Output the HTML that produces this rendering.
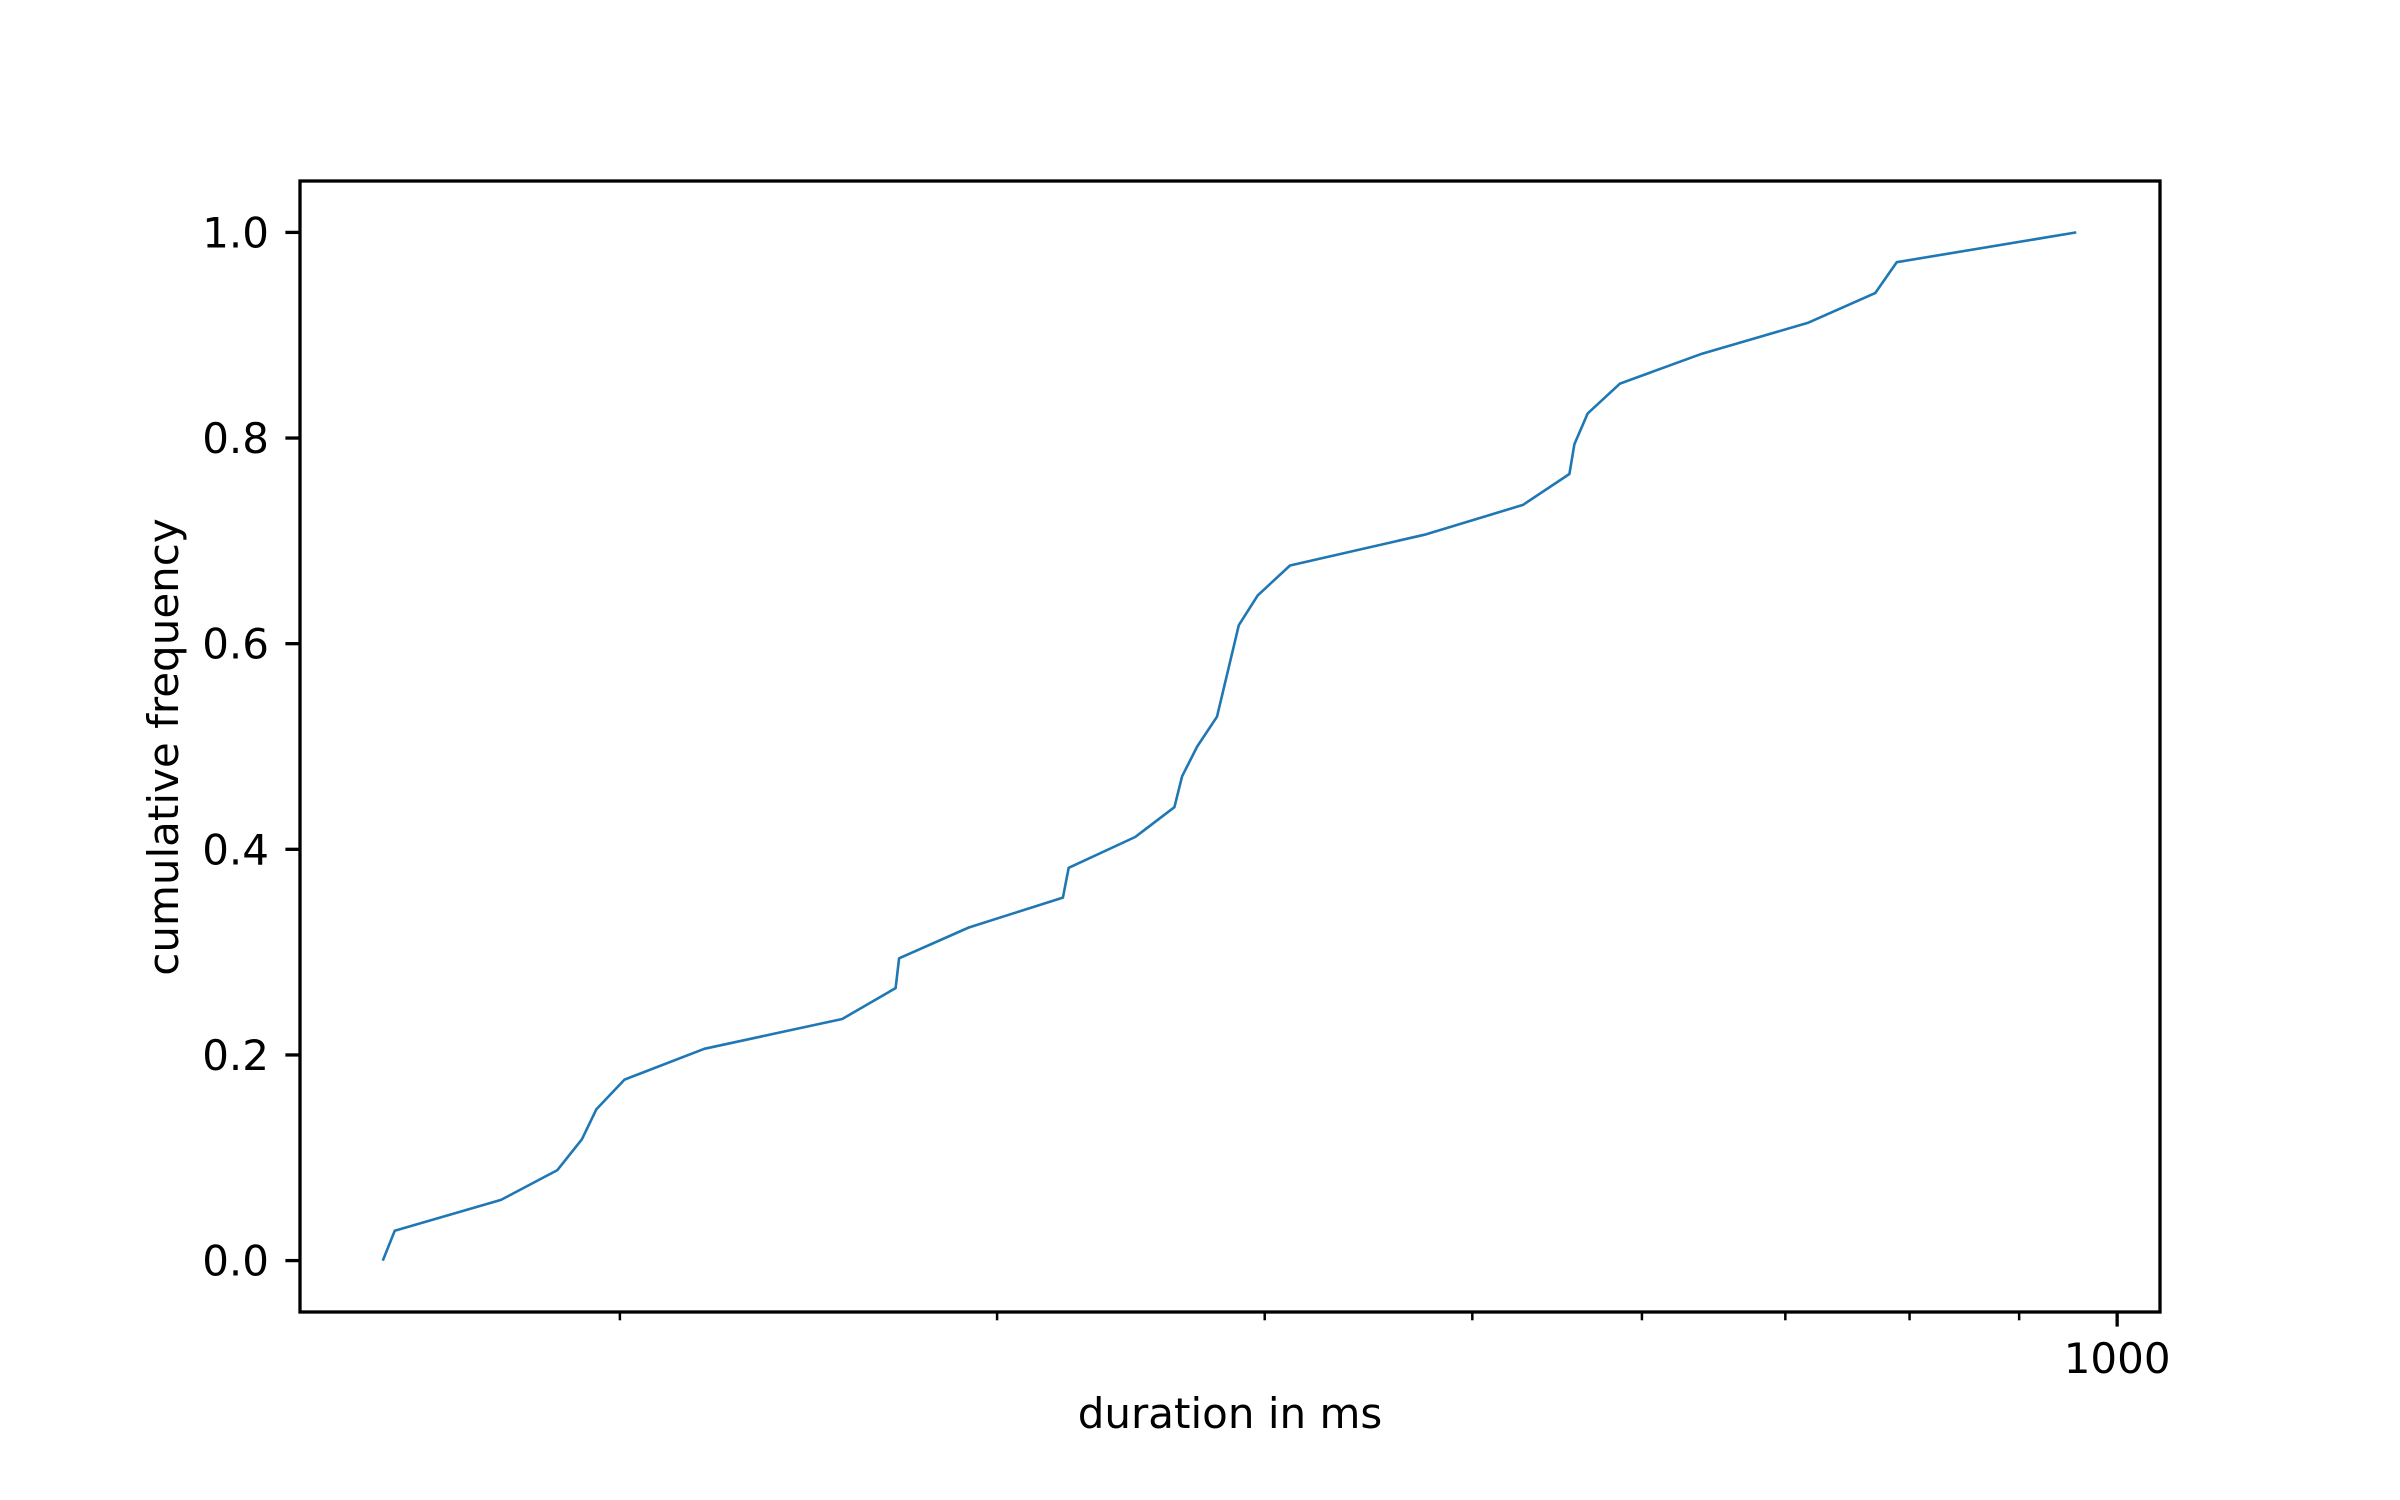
<!DOCTYPE html>
<html><head><meta charset="utf-8"><style>
html,body{margin:0;padding:0;background:#fff;}
svg{display:block;font-family:"DejaVu Sans","Liberation Sans",sans-serif;}
</style></head><body>
<svg id="chart" width="2400" height="1500" viewBox="0 0 2400 1500" xmlns="http://www.w3.org/2000/svg">
<rect x="0" y="0" width="2400" height="1500" fill="#fff"/>
<g id="plot"></g>
<rect x="300" y="181" width="1860" height="1131" fill="none" stroke="#000" stroke-width="3.3"/>
<text x="1230" y="1428" font-size="42" text-anchor="middle">duration in ms</text>
<text x="178" y="747" font-size="42" text-anchor="middle" transform="rotate(-90 178 747)">cumulative frequency</text>
</svg>
<script>
const durations = [155,157,176,187,192,195,201,219,254,269,270,291,322,324,348,363,366,372,380,389,397,411,475,528,555,558,566,586,640,717,771,789,957];
const cumFreq = [0,0.029,0.059,0.088,0.118,0.147,0.176,0.206,0.235,0.265,0.294,0.324,0.353,0.382,0.412,0.441,0.471,0.5,0.529,0.618,0.647,0.676,0.706,0.735,0.765,0.794,0.824,0.853,0.882,0.912,0.941,0.971,1.0];
const yTicks = [0,0.2,0.4,0.6,0.8,1.0];
const yTickLabels = ["0.0","0.2","0.4","0.6","0.8","1.0"];
const xMajorTicks = [1000];
const xMajorLabels = ["1000"];
const xMinorTicks = [200,300,400,500,600,700,800,900];

const NS="http://www.w3.org/2000/svg";
const L=300,R=2160,T=181,B=1312;
const xmin=2.1517,xmax=3.020;
function xs(v){return L+(Math.log10(v)-xmin)/(xmax-xmin)*(R-L);}
function ys(v){return B-(v+0.05)/1.1*(B-T);}
const g=document.getElementById('plot');
function mk(tag,attrs){const e=document.createElementNS(NS,tag);for(const k in attrs)e.setAttribute(k,attrs[k]);g.appendChild(e);return e;}

yTicks.forEach((v,i)=>{
  const t=mk('line',{x1:L-14.6,x2:L,y1:ys(v),y2:ys(v),stroke:'#000','stroke-width':3.3});
  
  
  const tx=mk('text',{x:L-31,y:ys(v)+15,'font-size':42,'text-anchor':'end'});
  tx.textContent=yTickLabels[i];
  
  
});
xMajorTicks.forEach((v,i)=>{
  const t=mk('line',{x1:xs(v),x2:xs(v),y1:B,y2:B+14.6,stroke:'#000','stroke-width':3.3});
  
  
  const tx=mk('text',{x:xs(v),y:B+61,'font-size':42,'text-anchor':'middle'});
  tx.textContent=xMajorLabels[i];
  
  
});
xMinorTicks.forEach(v=>{
  const t=mk('line',{x1:xs(v),x2:xs(v),y1:B,y2:B+8.3,stroke:'#000','stroke-width':2.5});
  
  
});
const pts=durations.map((d,i)=>xs(d).toFixed(1)+','+ys(cumFreq[i]).toFixed(1)).join(' ');
const line=mk('polyline',{points:pts,fill:'none',stroke:'#1f77b4','stroke-width':2.6,'stroke-linejoin':'round'});


</script>
</body></html>
